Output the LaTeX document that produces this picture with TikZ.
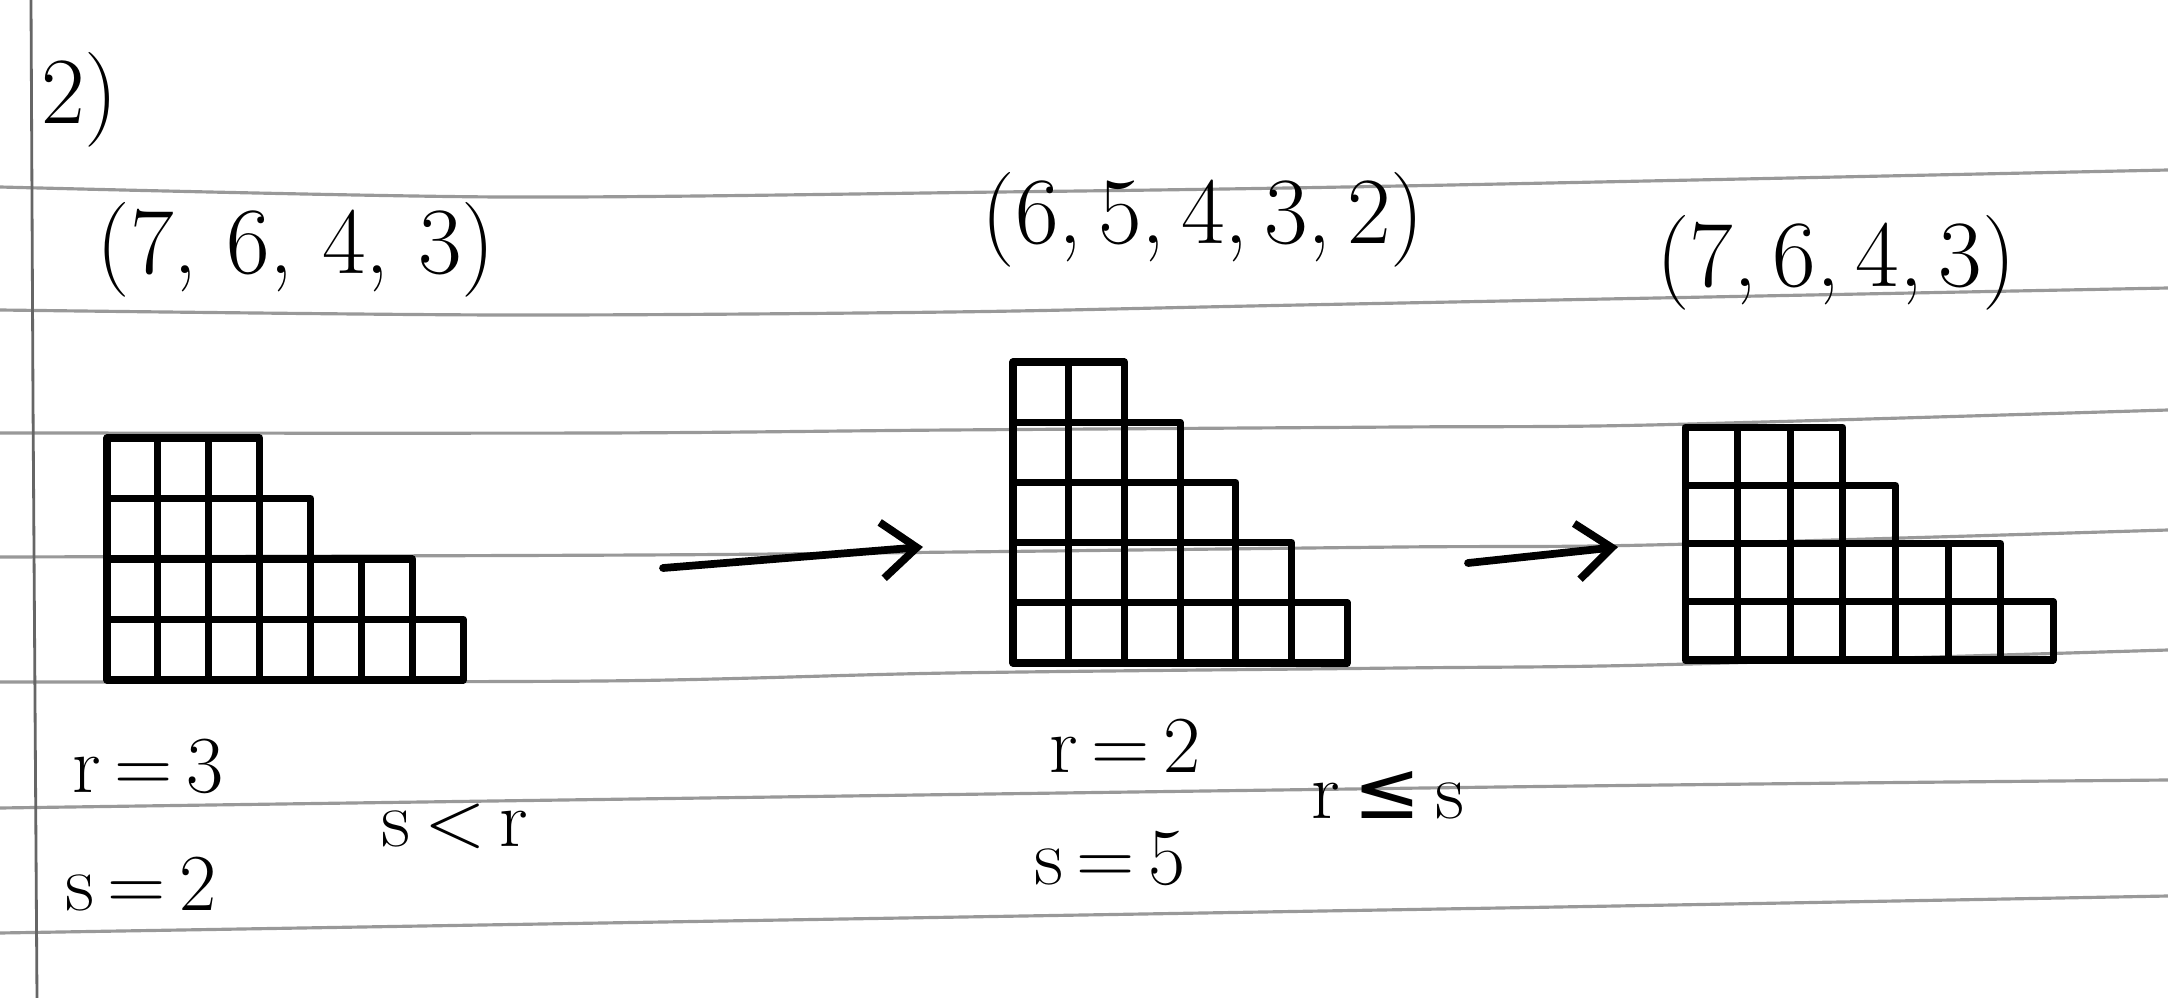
\documentclass[tikz,border=0pt]{standalone}
\usepackage{fontspec}
\usepackage{amssymb}
\usepackage{tikz}
\usetikzlibrary{arrows.meta}
\newfontfamily\symfont{DejaVu Sans}

\begin{document}
\begin{tikzpicture}[x=0.1mm,y=-0.1mm]
\tikzset{cell/.style={draw,line width=2pt,line join=round}}
\tikzset{rule/.style={black!40,line width=0.9pt}}
\tikzset{hand/.style={font=\fontsize{23}{28}\selectfont,inner sep=0pt}}
\tikzset{big/.style={font=\fontsize{27}{32}\selectfont,inner sep=0pt}}
\tikzset{arr/.style={line width=2.2pt,line cap=round,-{Straight Barb[length=3.5mm,width=5.6mm]}}}

\useasboundingbox[fill=white] (0,0) rectangle (2168,998);

% ruled paper
\draw[rule] plot[smooth] coordinates {(0,187) (500,197) (1000,192) (1400,186) (2168,170)};
\draw[rule] plot[smooth] coordinates {(0,310) (500,315) (950,312) (1300,305) (2168,288)};
\draw[rule] plot[smooth] coordinates {(0,433) (600,433) (950,430) (1400,427) (1650,425) (2168,410)};
\draw[rule] plot[smooth] coordinates {(0,557) (640,555) (960,552) (1400,547) (1650,545) (2168,530)};
\draw[rule] plot[smooth] coordinates {(0,682) (600,681) (950,673) (1400,668) (1650,665) (2168,650)};
\draw[rule] plot[smooth] coordinates {(0,808) (1500,787) (2168,780)};
\draw[rule] plot[smooth] coordinates {(0,933) (1500,908) (2168,896)};
\draw[black!60,line width=0.8pt] (31,0) -- (33,400) -- (37,998);

\node[big] (num) at (80,100) {2)};

% partitions
\node[big] (p1) at (296,250) {(7, 6, 4, 3)};
\node[big] (p2) at (1203,220) {(6,\,5,\,4,\,3,\,2)};
\node[big] (p3) at (1836,263) {(7,\,6,\,4,\,3)};

% young diagrams
\foreach \r/\n in {0/7,1/6,2/4,3/3}
  \foreach \j in {1,...,\n}
    \draw[cell] ({107+(\j-1)*50.9},{680-\r*60.5}) rectangle +(50.9,-60.5);

\foreach \r/\n in {0/6,1/5,2/4,3/3,4/2}
  \foreach \j in {1,...,\n}
    \draw[cell] ({1013+(\j-1)*55.7},{663-\r*60.2}) rectangle +(55.7,-60.2);

\foreach \r/\n in {0/7,1/6,2/4,3/3}
  \foreach \j in {1,...,\n}
    \draw[cell] ({1685+(\j-1)*52.6},{660-\r*58.2}) rectangle +(52.6,-58.2);

% arrows between diagrams
\coordinate (a1) at (663,568);
\coordinate (b1) at (923,547);
\coordinate (a2) at (1468,563);
\coordinate (b2) at (1618,547);
\draw[arr] (a1) -- (b1);
\draw[arr] (a2) -- (b2);

% r and s
\node[hand] (r1) at (148,766) {r\,=\,3};
\node[hand] (s1) at (141,884) {s\,=\,2};
\node[hand] (c1) at (455,826) {s\,<\,r};
\node[hand] (r2) at (1125,746) {r\,=\,2};
\node[hand] (s2) at (1110,858) {s\,=\,5};
\node[hand] (c2) at (1388,795) {r\,{\symfont ≤}\,s};

\end{tikzpicture}
\end{document}
